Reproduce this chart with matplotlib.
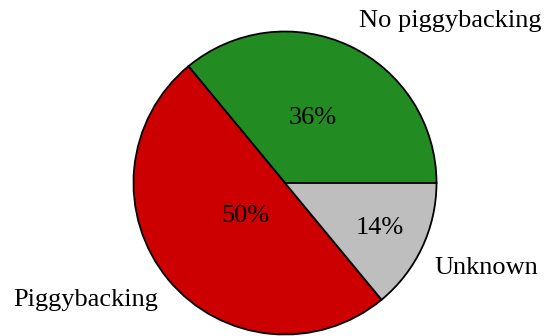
import matplotlib
matplotlib.use("Agg")
import matplotlib.pyplot as plt

categories = ["No piggybacking", "Piggybacking", "Unknown"]
values = [36, 50, 14]
colors = ["#228B22", "#CC0000", "#BEBEBE"]

plt.rcParams['font.family'] = ['Liberation Serif', 'DejaVu Serif']

fig = plt.figure(figsize=(5.44, 3.36), dpi=100)
r_px = 151.5
cx, cy = 285, 336 - 183
ax = fig.add_axes([(cx - r_px) / 544, (cy - r_px) / 336, 2 * r_px / 544, 2 * r_px / 336])

wedges, texts, autotexts = ax.pie(
    values, labels=categories, colors=colors, startangle=0, counterclock=True,
    autopct=lambda p: f"{p:.0f}%",
    wedgeprops=dict(edgecolor="black", linewidth=1.3),
    textprops=dict(fontsize=19, color="black"),
)
ax.set_xlim(-1, 1)
ax.set_ylim(-1, 1)
ax.set_aspect('equal')

# label placement (data coords)
label_pos = [(0.49, 1.07, 'left'), (-0.84, -0.77, 'right'), (0.985, -0.56, 'left')]
for t, (x, y, ha) in zip(texts, label_pos):
    t.set_position((x, y))
    t.set_ha(ha)
    t.set_va('center')
    t.set_clip_on(False)

pct_pos = [(0.184, 0.428), (-0.263, -0.217), (0.625, -0.296)]
for t, (x, y) in zip(autotexts, pct_pos):
    t.set_position((x, y))
    t.set_ha('center')
    t.set_va('center')

fig.savefig("out.png", dpi=100)
